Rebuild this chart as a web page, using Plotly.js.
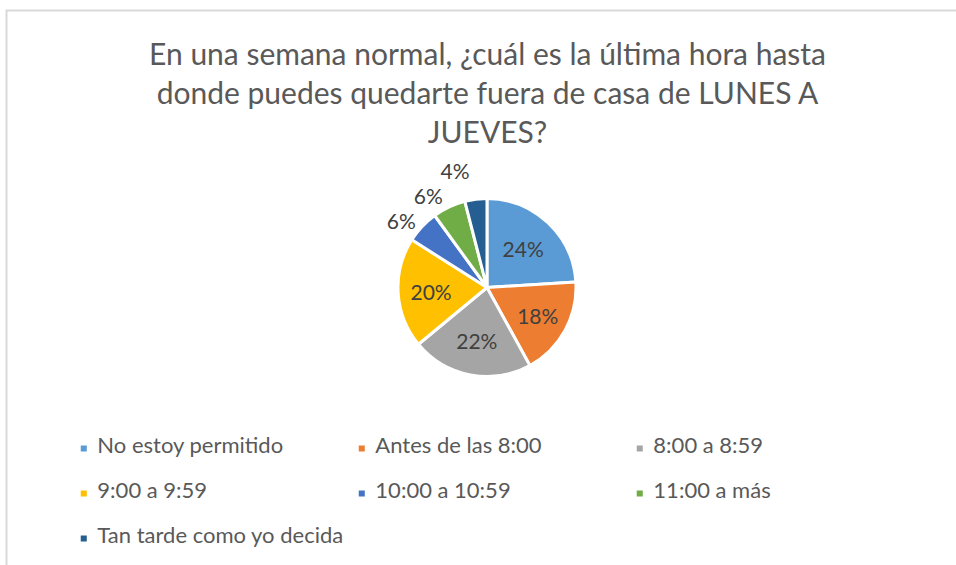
<!DOCTYPE html>
<html>
<head>
<meta charset="utf-8">
<script src="https://cdn.plot.ly/plotly-3.0.1.min.js"></script>
<style>
html,body{margin:0;padding:0;background:#fff;}
#chart{width:956px;height:565px;}
/* Excel draws no leader lines for the outside labels */
#chart path.textline{display:none;}
/* smaller legend squares placed close to their text, as in the original */
#chart .legend .legendpoints{transform:translate(13px,0) scale(0.67);}
</style>
</head>
<body>
<div id="chart"></div>
<script>
const titleLines = [
  "En una semana normal, ¿cuál es la última hora hasta",
  "donde puedes quedarte fuera de casa de LUNES A",
  "JUEVES?"
];
const labels = [
  "No estoy permitido",
  "Antes de las 8:00",
  "8:00 a 8:59",
  "9:00 a 9:59",
  "10:00 a 10:59",
  "11:00 a más",
  "Tan tarde como yo decida"
];
const values = [24, 18, 22, 20, 6, 6, 4];
const colors = ["#5B9BD5", "#ED7D31", "#A5A5A5", "#FFC000", "#4472C4", "#70AD47", "#255E91"];
const textPositions = ["inside", "inside", "inside", "inside", "outside", "outside", "outside"];

// legend entries: label on the middle of three lines so rows are spaced like the original
const legendText = labels.map(l => '&nbsp;<br><span style="font-size:22px">' + l + '</span><br>&nbsp;');

const trace = {
  type: "pie",
  labels: legendText,
  values: values,
  sort: false,
  direction: "clockwise",
  rotation: 0,
  marker: { colors: colors, line: { color: "#ffffff", width: 3 } },
  textinfo: "percent",
  texttemplate: "%{percent:.0%}",
  textposition: textPositions,
  insidetextorientation: "horizontal",
  textfont: { family: "Lato, sans-serif", size: 21, color: "#404040" },
  insidetextfont: { family: "Lato, sans-serif", size: 21, color: "#404040" },
  outsidetextfont: { family: "Lato, sans-serif", size: 21, color: "#404040" },
  domain: { x: [0.4163, 0.6025], y: [0.3336, 0.6487] },
  hoverinfo: "percent"
};

const layout = {
  width: 956,
  height: 565,
  margin: { l: 0, r: 0, t: 0, b: 0, autoexpand: false },
  paper_bgcolor: "#ffffff",
  font: { family: "Lato, sans-serif", color: "#595959" },
  title: {
    text: titleLines.join("<br>"),
    font: { family: "Lato, sans-serif", size: 30, color: "#595959" },
    x: 0.51, xanchor: "center",
    y: 1 - 65 / 565, yanchor: "top", yref: "container"
  },
  showlegend: true,
  legend: {
    orientation: "h",
    x: 0.06, xanchor: "left",
    y: 1 - 421 / 565, yanchor: "top",
    entrywidth: 233,
    font: { family: "Lato, sans-serif", size: 10.77, color: "#595959" },
    bgcolor: "rgba(0,0,0,0)"
  },
  shapes: [{
    type: "rect", xref: "paper", yref: "paper",
    x0: 6.5 / 956, x1: 1.05, y0: -0.05, y1: 1 - 10.5 / 565,
    line: { color: "#d9d9d9", width: 2 }, fillcolor: "rgba(0,0,0,0)", layer: "below"
  }]
};

Plotly.newPlot("chart", [trace], layout, { displayModeBar: false, staticPlot: true });
</script>
</body>
</html>
